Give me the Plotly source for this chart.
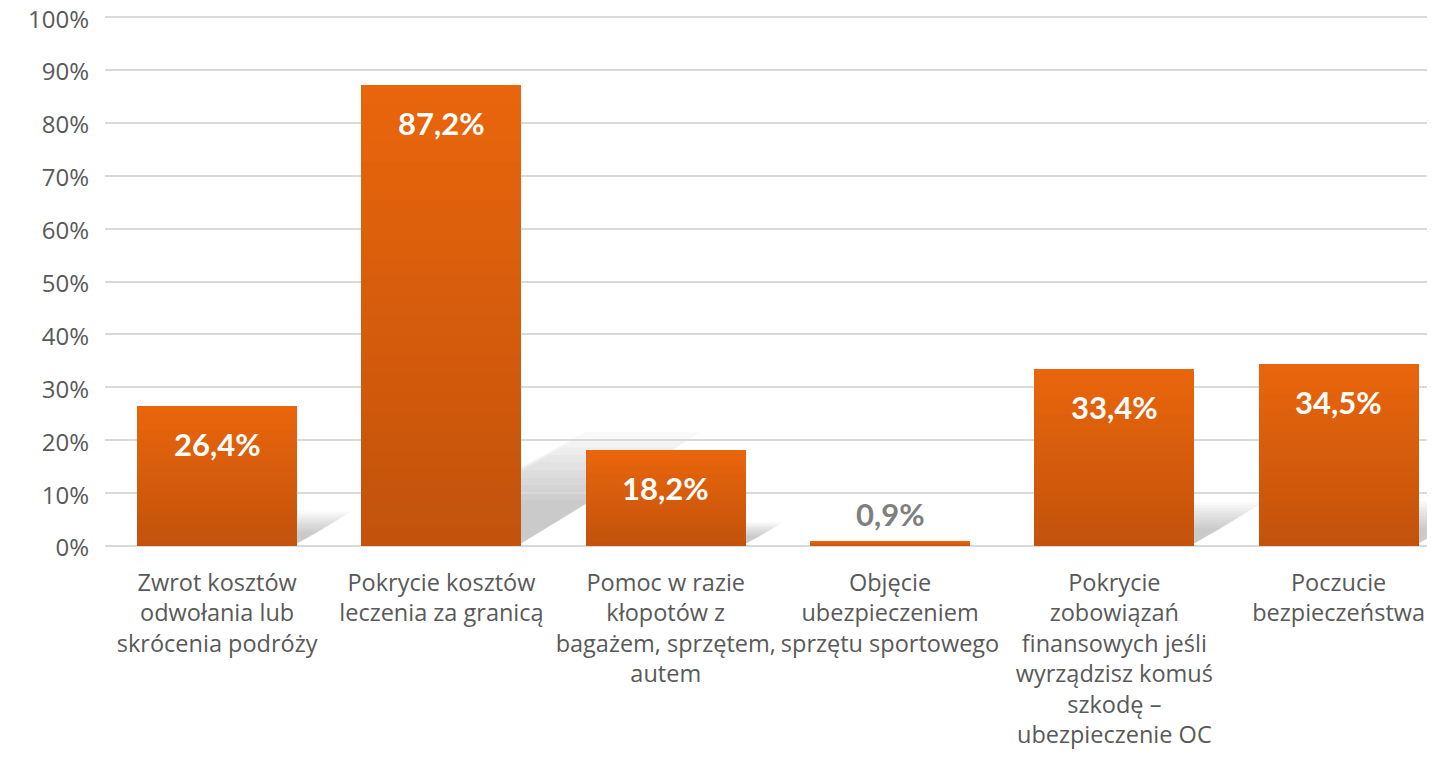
import plotly.graph_objects as go
import numpy as np

categories = [
    "Zwrot kosztów<br>odwołania lub<br>skrócenia podróży",
    "Pokrycie kosztów<br>leczenia za granicą",
    "Pomoc w razie<br>kłopotów z<br>bagażem, sprzętem,<br>autem",
    "Objęcie<br>ubezpieczeniem<br>sprzętu sportowego",
    "Pokrycie<br>zobowiązań<br>finansowych jeśli<br>wyrządzisz komuś<br>szkodę –<br>ubezpieczenie OC",
    "Poczucie<br>bezpieczeństwa",
]
values = [26.4, 87.2, 18.2, 0.9, 33.4, 34.5]
value_labels = ["26,4%", "87,2%", "18,2%", "0,9%", "33,4%", "34,5%"]
y_ticks = [0, 10, 20, 30, 40, 50, 60, 70, 80, 90, 100]
y_tick_labels = [f"{t}%" for t in y_ticks]

AXFONT = "Open Sans"
VALFONT = "Lato"
top_rgb = np.array([234, 102, 13])
bot_rgb = np.array([195, 83, 12])
N = 24
BAR_W = 0.713

fig = go.Figure()
x_idx = list(range(len(categories)))

# soft perspective shadows on the floor
shapes = []
n_layers = 10
for i, v in enumerate(values):
    xr = i + BAR_W / 2
    xl = i - BAR_W / 2
    h_px = v * 5.29
    dx = 0.37 * h_px / 224.3
    dy = 0.235 * v
    for j in range(n_layers):
        s = 1.05 - 0.07 * j
        path = (f"M {xl + 0.05},0 L {xr - 0.02},0 "
                f"L {xr + dx * s},{dy * s} L {xl + dx * s + 0.2},{dy * s} Z")
        shapes.append(dict(type="path", path=path, xref="x", yref="y",
                           fillcolor="rgb(110,110,110)", opacity=0.045,
                           line=dict(width=0), layer="below"))

# gradient bars built by stacking slices
for k in range(N):
    t = (k + 0.5) / N
    c = bot_rgb + (top_rgb - bot_rgb) * t
    fig.add_trace(go.Bar(
        x=x_idx, y=[v / N for v in values], width=BAR_W,
        marker=dict(color=f"rgb({int(c[0])},{int(c[1])},{int(c[2])})", line=dict(width=0)),
        showlegend=False, hoverinfo="skip",
    ))

annotations = []
for i, (v, lab) in enumerate(zip(values, value_labels)):
    inside = v > 5
    annotations.append(dict(x=i, y=v, xref="x", yref="y", text=f"<b>{lab}</b>",
                            showarrow=False, yshift=-38 if inside else 27,
                            font=dict(family=VALFONT, size=31,
                                      color="white" if inside else "#7F7F7F")))

fig.update_layout(
    barmode="stack", bargap=0,
    width=1419, height=741,
    margin=dict(l=97, r=0, t=7, b=203, autoexpand=False),
    paper_bgcolor="white", plot_bgcolor="white",
    shapes=shapes, annotations=annotations,
    xaxis=dict(tickmode="array", tickvals=x_idx, ticktext=categories,
               range=[-0.5, 5.394], showgrid=False, zeroline=False,
               tickfont=dict(family=AXFONT, size=23.5, color="#595959"),
               tickangle=0,
               ticks="", ticklabelstandoff=20, automargin=False,
               ticklabeloverflow="allow"),
    yaxis=dict(range=[0, 100.4], tickvals=y_ticks, ticktext=y_tick_labels,
               showgrid=True, gridcolor="#D9D9D9", gridwidth=1.5,
               zeroline=True, zerolinecolor="#D9D9D9", zerolinewidth=1.5,
               tickfont=dict(family=AXFONT, size=24, color="#595959"),
               ticks="", ticklabelstandoff=15, ticklabelshift=2,
               automargin=False, ticklabeloverflow="allow"),
    font=dict(family=AXFONT),
)

fig.write_html("out.html")
